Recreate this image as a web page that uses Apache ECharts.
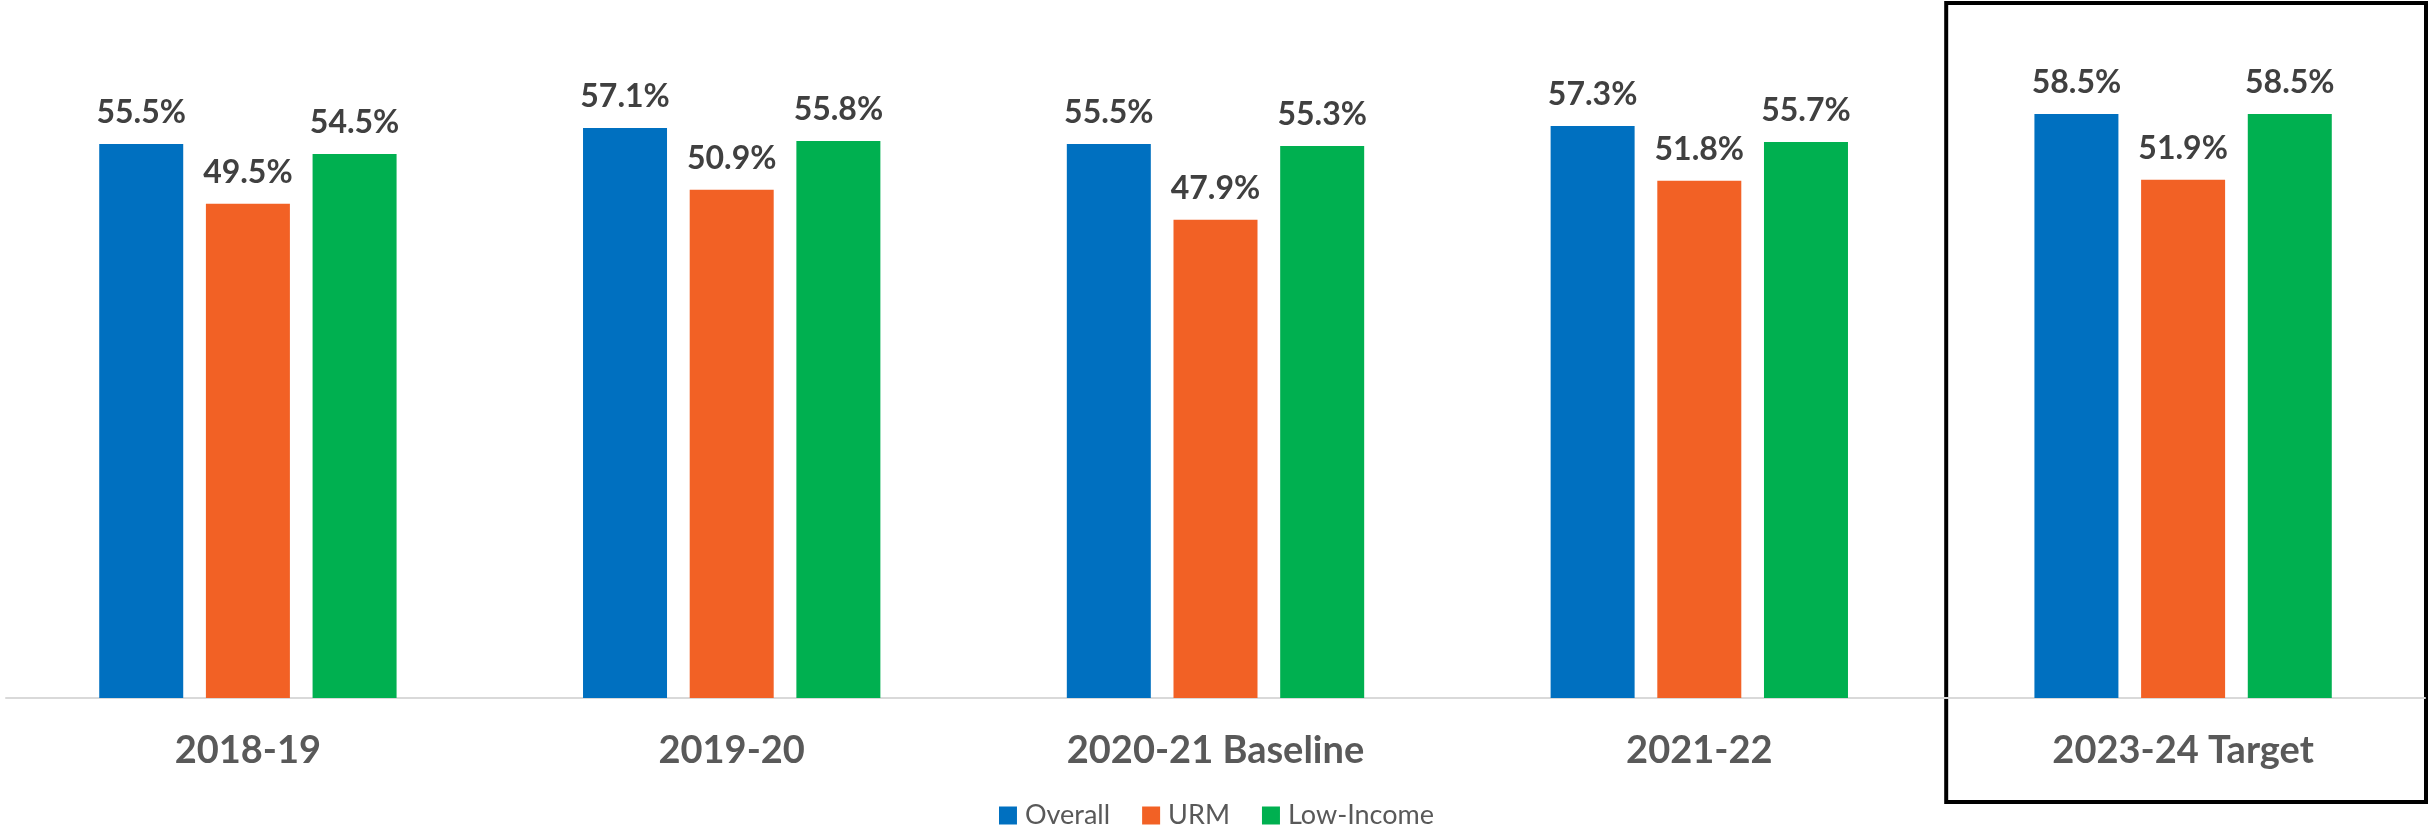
<!DOCTYPE html>
<html>
<head>
<meta charset="utf-8">
<script src="https://cdn.jsdelivr.net/npm/echarts@6/dist/echarts.min.js"></script>
<style>
  html, body { margin: 0; padding: 0; background: #ffffff; }
  #chart { width: 2433px; height: 836px; }
</style>
</head>
<body>
<div id="chart"></div>
<script>
// Academic years shown along the x axis
const categories = ['2018-19', '2019-20', '2020-21 Baseline', '2021-22', '2023-24 Target'];

// Rates in percent for each student group
const overall   = [55.5, 57.1, 55.5, 57.3, 58.5];
const urm       = [49.5, 50.9, 47.9, 51.8, 51.9];
const lowIncome = [54.5, 55.8, 55.3, 55.7, 58.5];

const seriesNames = ['Overall', 'URM', 'Low-Income'];
const seriesColors = ['#0070C0', '#F26125', '#00B050'];

// Index of the category outlined with a frame
const highlightedIndex = 4;

const chart = echarts.init(document.getElementById('chart'), null, { renderer: 'canvas' });

const valueLabel = {
  show: true,
  position: 'top',
  distance: 15,
  fontFamily: 'Lato',
  fontWeight: 'bold',
  fontSize: 32,
  color: '#404040',
  formatter: p => p.value.toFixed(1) + '%'
};

function makeSeries(name, data, color) {
  return {
    name: name,
    type: 'bar',
    data: data,
    barWidth: 84,
    barGap: '27%',
    itemStyle: { color: color },
    label: valueLabel,
    emphasis: { disabled: true }
  };
}

chart.setOption({
  animation: false,
  backgroundColor: '#ffffff',
  grid: { left: 6, right: 8, top: 99, bottom: 138, containLabel: false },
  legend: {
    data: seriesNames,
    bottom: 2,
    left: 'center',
    icon: 'rect',
    itemWidth: 18,
    itemHeight: 18,
    itemGap: 32,
    textStyle: {
      fontFamily: 'Lato',
      fontSize: 27,
      color: '#595959',
      padding: [0, 0, 0, 3]
    }
  },
  xAxis: {
    type: 'category',
    data: categories,
    axisLine: { show: true, lineStyle: { color: '#D9D9D9', width: 2 } },
    axisTick: { show: false },
    axisLabel: {
      margin: 34,
      fontFamily: 'Lato',
      fontWeight: 'bold',
      fontSize: 38,
      color: '#595959'
    }
  },
  yAxis: {
    type: 'value',
    min: 0,
    max: 60,
    show: false,
    splitLine: { show: false }
  },
  series: [
    makeSeries(seriesNames[0], overall, seriesColors[0]),
    makeSeries(seriesNames[1], urm, seriesColors[1]),
    makeSeries(seriesNames[2], lowIncome, seriesColors[2])
  ]
});

// Frame around the target year, placed from the axis position of that category
const center = chart.convertToPixel({ xAxisIndex: 0 }, highlightedIndex);
const left0 = chart.convertToPixel({ xAxisIndex: 0 }, 0);
const left1 = chart.convertToPixel({ xAxisIndex: 0 }, 1);
const band = left1 - left0;
chart.setOption({
  graphic: [{
    type: 'rect',
    silent: true,
    shape: {
      x: center - band / 2 + 5,
      y: 3,
      width: band - 4,
      height: 799
    },
    style: { fill: 'none', stroke: '#000000', lineWidth: 4 }
  }]
});
</script>
</body>
</html>
